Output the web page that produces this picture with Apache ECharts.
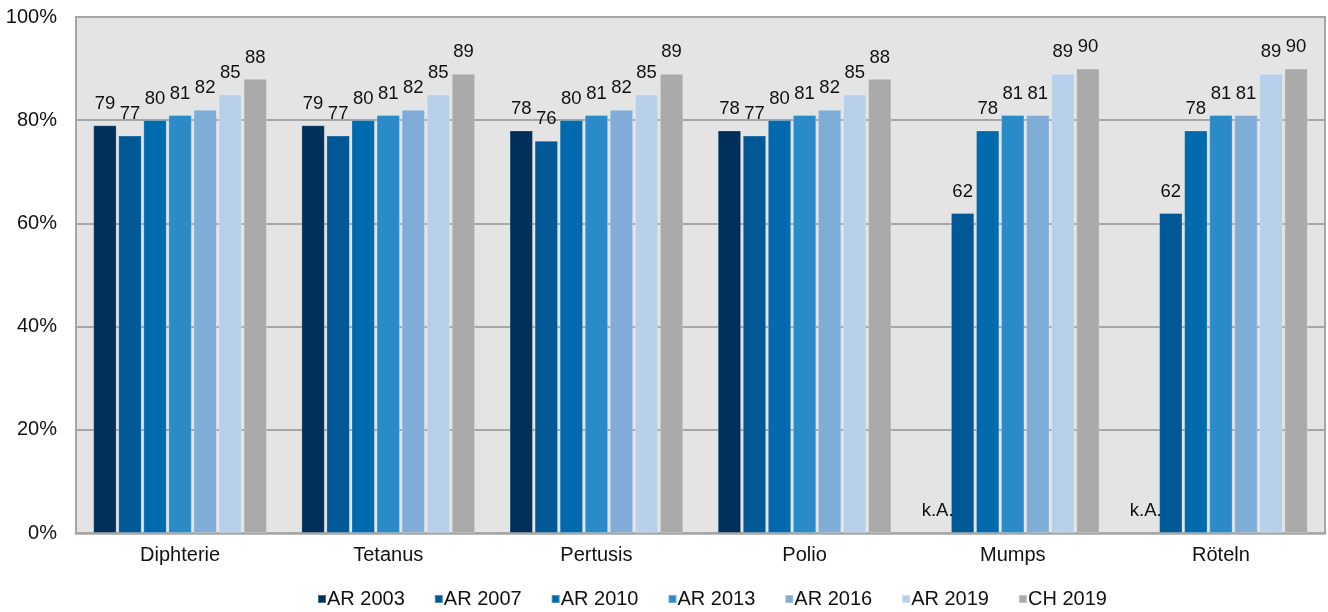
<!DOCTYPE html>
<html>
<head>
<meta charset="utf-8">
<script src="https://cdn.jsdelivr.net/npm/echarts@6/dist/echarts.min.js"></script>
<style>
  html, body { margin: 0; padding: 0; background: #ffffff; }
  #chart { width: 1328px; height: 612px; }
</style>
</head>
<body>
<div id="chart"></div>
<script>
// Impfquoten nach Impfung und Erhebungsjahr (in %)
const categories = ['Diphterie', 'Tetanus', 'Pertusis', 'Polio', 'Mumps', 'Röteln'];
const seriesNames = ['AR 2003', 'AR 2007', 'AR 2010', 'AR 2013', 'AR 2016', 'AR 2019', 'CH 2019'];
const ar2003 = [79, 79, 78, 78, null, null];
const ar2007 = [77, 77, 76, 77, 62, 62];
const ar2010 = [80, 80, 80, 80, 78, 78];
const ar2013 = [81, 81, 81, 81, 81, 81];
const ar2016 = [82, 82, 82, 82, 81, 81];
const ar2019 = [85, 85, 85, 85, 89, 89];
const ch2019 = [88, 89, 89, 88, 90, 90];
const yTicks = [0, 20, 40, 60, 80, 100];
const missingText = 'k.A.';

const seriesValues = [ar2003, ar2007, ar2010, ar2013, ar2016, ar2019, ch2019];
const colors = ['#00305a', '#005894', '#006aaf', '#2b8bc8', '#80acd8', '#b8cfeb', '#aaaaaa'];

const font = 'Liberation Sans, Arial, sans-serif';

const series = seriesNames.map((name, i) => ({
  name: name,
  type: 'bar',
  barWidth: 23.2,
  barGap: '8%',
  itemStyle: { color: colors[i], borderColor: 'rgba(255,255,255,0.3)', borderWidth: 0.8 },
  label: {
    show: true,
    position: 'top',
    distance: 12,
    color: '#111111',
    fontFamily: font,
    fontSize: 18.5
  },
  data: seriesValues[i].map(v => v === null
    ? { value: 0, itemStyle: { borderWidth: 0 }, label: { show: true, formatter: missingText, position: 'top', distance: 13 } }
    : v)
}));

const chart = echarts.init(document.getElementById('chart'), null, { renderer: 'canvas' });
chart.setOption({
  backgroundColor: '#ffffff',
  animation: false,
  color: colors,
  grid: {
    left: 76, right: 3, top: 17, bottom: 79,
    show: true,
    backgroundColor: '#e4e4e4',
    borderColor: '#a6a6a6',
    borderWidth: 2
  },
  legend: {
    top: 589,
    left: 317,
    padding: 0,
    itemWidth: 8,
    itemHeight: 8,
    itemGap: 29,
    icon: 'rect',
    textStyle: { fontFamily: font, fontSize: 20, color: '#111111', padding: [0, 0, 0, -4] },
    data: seriesNames
  },
  xAxis: {
    type: 'category',
    data: categories,
    axisLine: { show: true, lineStyle: { color: '#a6a6a6', width: 2.5 } },
    axisTick: { show: false },
    axisLabel: { fontFamily: font, fontSize: 20, color: '#111111', margin: 12 }
  },
  yAxis: {
    type: 'value',
    min: yTicks[0],
    max: yTicks[yTicks.length - 1],
    interval: yTicks[1] - yTicks[0],
    axisLine: { show: false },
    axisTick: { show: false },
    splitLine: { lineStyle: { color: '#a6a6a6', width: 2 } },
    axisLabel: {
      fontFamily: font, fontSize: 20, color: '#111111', margin: 19,
      formatter: v => v + '%'
    }
  },
  series: series
});
</script>
</body>
</html>
